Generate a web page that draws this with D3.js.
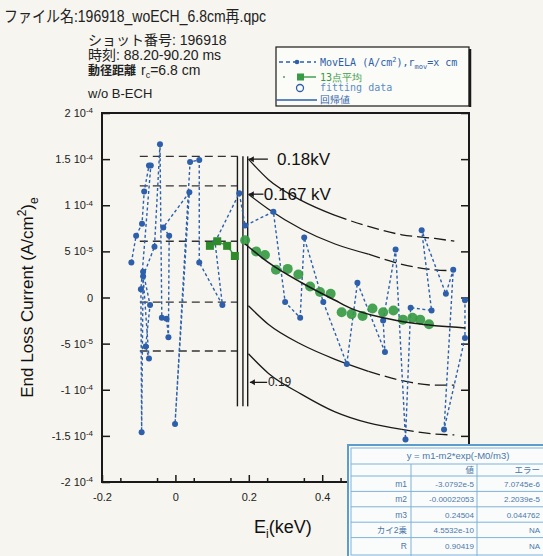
<!DOCTYPE html>
<html>
<head>
<meta charset="utf-8">
<script src="https://cdn.jsdelivr.net/npm/d3@7"></script>
<style>
  body { margin: 0; background: #f6f5ef; }
  svg { display: block; font-family: "Liberation Sans", Arial, "Noto Sans CJK JP", sans-serif; }
</style>
</head>
<body>
<div class="chart"></div>
<script>
// y values are in units of 1e-5 A/cm2
var movE = [-0.120, -0.107, -0.091, -0.085, -0.072, -0.067, -0.094, -0.092, -0.088, -0.069,
            -0.081, -0.072, -0.088, -0.057, -0.042, -0.037, -0.024, -0.019, -0.017, -0.033,
            0.038, -0.001, 0.040, 0.065, 0.065, 0.128, 0.108, 0.174, 0.190, 0.267,
            0.299, 0.340, 0.351, 0.403, 0.467, 0.496, 0.571, 0.566, 0.600, 0.627,
            0.641, 0.698, 0.671, 0.737, 0.757, 0.732, 0.789, 0.789];
var movY = [3.8, 6.7, 8.0, 11.5, 14.3, 14.3, 0.9, -14.6, 2.8, -0.8,
            -5.3, -6.6, 2.3, 5.5, 16.6, -2.2, -2.3, -4.3, 6.7, 7.6,
            11.4, -13.7, 14.7, 14.9, 3.8, -0.8, 6.0, 11.3, 7.8, 9.3,
            -0.5, -2.2, 6.5, -0.5, -7.2, 1.6, -5.9, -2.5, 5.2, -15.4,
            -1.1, -1.4, 7.3, 0.4, 3.0, -14.3, -4.4, -0.3];

var avgE = [0.094, 0.114, 0.141, 0.162];
var avgY = [5.6, 6.1, 5.6, 4.5];

var fitDataE = [0.190, 0.220, 0.244, 0.274, 0.306, 0.335, 0.367, 0.394, 0.423, 0.453,
                0.480, 0.510, 0.537, 0.566, 0.594, 0.620, 0.646, 0.667, 0.691];
var fitDataY = [6.2, 5.0, 4.6, 3.0, 3.1, 2.5, 1.2, 0.6, 0.4, -1.6,
                -1.8, -2.0, -1.2, -1.6, -1.4, -2.4, -2.2, -2.4, -2.9];

var fitE = [0.190, 0.253, 0.344, 0.435, 0.480, 0.566, 0.650, 0.790];
var fitY = [5.8, 3.8, 1.6, -0.3, -1.2, -2.2, -2.8, -3.3];

// bound curves: E samples shared, split index where the line turns dashed
var boundE = [0.199, 0.253, 0.344, 0.435, 0.526, 0.617, 0.707, 0.760];
var bound018 = [15.0, 12.8, 10.5, 8.9, 7.7, 6.8, 6.4, 6.1];
var bound0167 = [11.2, 9.6, 7.4, 5.8, 4.7, 3.6, 3.0, 2.9];
var boundLow1 = [-0.9, -2.9, -5.1, -6.7, -8.0, -9.0, -9.5, -9.5];
var boundLow2 = [-6.1, -8.2, -10.5, -12.4, -13.6, -14.3, -14.8, -14.9];
var boundSplit = [3, 4, 4, 5];

var levelY = [15.3, 12.1, 6.1, -0.5, -5.8];
var levelE = [-0.097, 0.170];
var wallE = [0.169, 0.184, 0.197];
var wallY = [15.3, -11.8];

var yTickVals = [20, 15, 10, 5, 0, -5, -10, -15, -20];
var yTickMant = ["2", "1.5", "1", "5", "0", "-5", "-1", "-1.5", "-2"];
var yTickExp = ["-4", "-4", "-4", "-5", "", "-5", "-4", "-4", "-4"];
var xTickVals = [-0.2, 0, 0.2, 0.4, 0.6, 0.8];
// 0.6 and 0.8 sit under the fit table, so they carry no label
var xTickLabels = ["-0.2", "0", "0.2", "0.4"];

var tableRows = ["m1", "m2", "m3", "カイ2乗", "R"];
var tableVals = ["-3.0792e-5", "-0.00022053", "0.24504", "4.5532e-10", "0.90419"];
var tableErrs = ["7.0745e-6", "2.2039e-5", "0.044762", "NA", "NA"];

var width = 543, height = 556;
var margin = { top: 113, right: 74, bottom: 74, left: 102 };

var svg = d3.select(".chart").append("svg")
    .attr("width", width)
    .attr("height", height);

var x = d3.scaleLinear().domain([-0.2, 0.8]).range([margin.left, width - margin.right]);
var y = d3.scaleLinear().domain([-20, 20]).range([height - margin.bottom, margin.top]);

var blue = "#2d5fab", green = "#379a45", ink = "#1a1a1a";

// header texts
svg.append("text").attr("x", 4).attr("y", 22).style("font-size", "16px").attr("fill", "#222")
    .attr("textLength", 262).attr("lengthAdjust", "spacingAndGlyphs")
    .text("ファイル名:196918_woECH_6.8cm再.qpc");
var info = svg.append("g").attr("fill", "#222").style("font-size", "14px");
info.append("text").attr("x", 88).attr("y", 45).text("ショット番号: 196918");
info.append("text").attr("x", 88).attr("y", 60).text("時刻: 88.20-90.20 ms");
info.append("text").attr("x", 88).attr("y", 75).style("font-size", "12px")
    .style("font-weight", "bold").text("動径距離");
var rc = info.append("text").attr("x", 141).attr("y", 75);
rc.append("tspan").text("r");
rc.append("tspan").attr("dy", 3).style("font-size", "9px").text("c");
rc.append("tspan").attr("dy", -3).text("=6.8 cm");
info.append("text").attr("x", 88).attr("y", 98).style("font-size", "13px").text("w/o B-ECH");

// legend box
var lg = svg.append("g").style("font-family", "'DejaVu Sans Mono', monospace").style("font-size", "10px");
lg.append("rect").attr("x", 276).attr("y", 47).attr("width", 193).attr("height", 59)
    .attr("fill", "#fbfbf7").attr("stroke", ink).attr("stroke-width", 1.2);
lg.append("line").attr("x1", 470).attr("x2", 470).attr("y1", 49).attr("y2", 107)
    .attr("stroke", ink).attr("stroke-width", 2.5);
lg.append("line").attr("x1", 279).attr("x2", 316).attr("y1", 62).attr("y2", 62)
    .attr("stroke", blue).attr("stroke-dasharray", "4,3").attr("stroke-width", 1.4);
lg.append("circle").attr("cx", 297).attr("cy", 62).attr("r", 2.3).attr("fill", blue);
var t1 = lg.append("text").attr("x", 320).attr("y", 66).attr("fill", blue);
t1.append("tspan").text("MovELA (A/cm");
t1.append("tspan").attr("dy", -4).style("font-size", "7px").text("2");
t1.append("tspan").attr("dy", 4).text("),r");
t1.append("tspan").attr("dy", 3).style("font-size", "7px").text("mov");
t1.append("tspan").attr("dy", -3).text("=x cm");
lg.append("line").attr("x1", 298).attr("x2", 316).attr("y1", 77).attr("y2", 77)
    .attr("stroke", green).attr("stroke-width", 1.4);
lg.append("circle").attr("cx", 284).attr("cy", 77).attr("r", 0.9).attr("fill", green);
lg.append("rect").attr("x", 297).attr("y", 73.5).attr("width", 7).attr("height", 7).attr("fill", green);
lg.append("text").attr("x", 320).attr("y", 81).attr("fill", green).text("13点平均");
lg.append("circle").attr("cx", 300).attr("cy", 88).attr("r", 3.5).attr("fill", "none")
    .attr("stroke", blue).attr("stroke-width", 1.3);
lg.append("text").attr("x", 320).attr("y", 91).attr("fill", "#5a8cc4").text("fitting data");
lg.append("line").attr("x1", 276).attr("x2", 317).attr("y1", 100).attr("y2", 100)
    .attr("stroke", blue).attr("stroke-width", 1.4);
lg.append("text").attr("x", 320).attr("y", 103).attr("fill", blue).text("回帰値");

// frame and axes
svg.append("rect").attr("x", x(-0.2)).attr("y", y(20))
    .attr("width", x(0.8) - x(-0.2)).attr("height", y(-20) - y(20))
    .attr("fill", "none").attr("stroke", ink).attr("stroke-width", 2);

var yAxis = svg.append("g")
    .attr("transform", "translate(" + x(-0.2) + ",0)")
    .call(d3.axisLeft(y).tickValues(yTickVals).tickSizeInner(-8).tickSizeOuter(0).tickPadding(9));
yAxis.selectAll("text").each(function(d, i) {
    var t = d3.select(this).text("").style("font-size", "11px").attr("fill", "#222");
    if (yTickExp[i] === "") { t.text(yTickMant[i]); return; }
    t.append("tspan").text(yTickMant[i] + " 10");
    t.append("tspan").attr("dy", "-0.45em").style("font-size", "8px").text(yTickExp[i]);
});
var yAxisR = svg.append("g")
    .attr("transform", "translate(" + x(0.8) + ",0)")
    .call(d3.axisRight(y).tickValues(yTickVals).tickSizeInner(-8).tickSizeOuter(0).tickFormat(""));

var xMinor = svg.append("g")
    .attr("transform", "translate(0," + y(-20) + ")")
    .call(d3.axisBottom(x).tickValues(d3.range(-0.15, 0.8, 0.1)).tickSizeInner(-4).tickSizeOuter(0).tickFormat(""));
var xAxis = svg.append("g")
    .attr("transform", "translate(0," + y(-20) + ")")
    .call(d3.axisBottom(x).tickValues(xTickVals).tickSizeInner(-7).tickSizeOuter(0).tickPadding(11)
        .tickFormat(function(d, i) { return xTickLabels[i] || ""; }));
xAxis.selectAll("text").style("font-size", "11px").attr("fill", "#222");

[yAxis, yAxisR, xMinor, xAxis].forEach(function(g) {
    g.select(".domain").remove();
    g.selectAll("line").attr("stroke", ink).attr("stroke-width", 1.5);
});

// axis labels
var yl = svg.append("text")
    .attr("transform", "translate(33," + y(0) + ") rotate(-90)")
    .attr("text-anchor", "middle").style("font-size", "17px").attr("fill", "#111");
yl.append("tspan").text("End Loss Current (A/cm");
yl.append("tspan").attr("dy", -7).style("font-size", "12px").text("2");
yl.append("tspan").attr("dy", 7).text(")");
yl.append("tspan").attr("dy", 5).style("font-size", "12px").text("e");

var xl = svg.append("text").attr("x", 254).attr("y", 533).style("font-size", "18px").attr("fill", "#111");
xl.append("tspan").text("E");
xl.append("tspan").attr("dy", 5).style("font-size", "12px").text("i");
xl.append("tspan").attr("dy", -5).text("(keV)");

// level guides and walls
svg.selectAll(".level").data(levelY).enter().append("line")
    .attr("x1", x(levelE[0])).attr("x2", x(levelE[1]))
    .attr("y1", function(d) { return y(d); }).attr("y2", function(d) { return y(d); })
    .attr("stroke", "#333").attr("stroke-width", 1.3).attr("stroke-dasharray", "8,5");
svg.selectAll(".wall").data(wallE).enter().append("line")
    .attr("x1", function(d) { return x(d); }).attr("x2", function(d) { return x(d); })
    .attr("y1", y(wallY[0])).attr("y2", y(wallY[1]))
    .attr("stroke", ink).attr("stroke-width", 1.4);

// bound curves
var curve = d3.line()
    .x(function(d) { return x(d[0]); })
    .y(function(d) { return y(d[1]); })
    .curve(d3.curveMonotoneX);
[bound018, bound0167, boundLow1, boundLow2].forEach(function(vals, k) {
    var pts = boundE.map(function(e, i) { return [e, vals[i]]; });
    var s = boundSplit[k];
    svg.append("path").attr("d", curve(pts.slice(0, s + 1)))
        .attr("fill", "none").attr("stroke", ink).attr("stroke-width", 1.3);
    svg.append("path").attr("d", curve(pts.slice(s)))
        .attr("fill", "none").attr("stroke", ink).attr("stroke-width", 1.3).attr("stroke-dasharray", "12,5");
});

// MovELA series
var movPts = movE.map(function(e, i) { return [e, movY[i]]; });
svg.append("path").attr("d", d3.line().x(function(d) { return x(d[0]); }).y(function(d) { return y(d[1]); })(movPts))
    .attr("fill", "none").attr("stroke", blue).attr("stroke-width", 1.4).attr("stroke-dasharray", "3,2.5");
svg.selectAll(".mov").data(movPts).enter().append("circle")
    .attr("cx", function(d) { return x(d[0]); }).attr("cy", function(d) { return y(d[1]); })
    .attr("r", 3).attr("fill", blue);

// 13-point average
var avgPts = avgE.map(function(e, i) { return [e, avgY[i]]; });
svg.append("path").attr("d", d3.line().x(function(d) { return x(d[0]); }).y(function(d) { return y(d[1]); })(avgPts))
    .attr("fill", "none").attr("stroke", green).attr("stroke-width", 1.4);
svg.selectAll(".avg").data(avgPts).enter().append("rect")
    .attr("x", function(d) { return x(d[0]) - 4; }).attr("y", function(d) { return y(d[1]) - 4; })
    .attr("width", 8).attr("height", 8).attr("fill", "#2f8a2c");

// fitting data and fit
svg.selectAll(".fitd").data(fitDataE).enter().append("circle")
    .attr("cx", function(d) { return x(d); }).attr("cy", function(d, i) { return y(fitDataY[i]); })
    .attr("r", 5).attr("fill", green).attr("opacity", 0.92);
svg.append("path").attr("d", curve(fitE.map(function(e, i) { return [e, fitY[i]]; })))
    .attr("fill", "none").attr("stroke", ink).attr("stroke-width", 1.5);

// annotations
function arrow(e0, e1, v) {
    svg.append("line").attr("x1", x(e0)).attr("x2", x(e1)).attr("y1", y(v)).attr("y2", y(v))
        .attr("stroke", ink).attr("stroke-width", 1.3);
    svg.append("path")
        .attr("d", "M" + x(e0) + "," + y(v) + "l5,-3l0,6z").attr("fill", ink);
}
arrow(0.200, 0.252, 15.0);
svg.append("text").attr("x", x(0.277)).attr("y", y(15.0) + 6).style("font-size", "17px").attr("fill", "#111").text("0.18kV");
arrow(0.200, 0.240, 11.2);
svg.append("text").attr("x", x(0.241)).attr("y", y(11.2) + 6).style("font-size", "17px").attr("fill", "#111").text("0.167 kV");
arrow(0.203, 0.250, -9.2);
svg.append("text").attr("x", x(0.252)).attr("y", y(-9.2) + 4).style("font-size", "12px").attr("fill", "#222").text("0.19");

// fit result table
var tb = svg.append("g").style("font-size", "8.5px").attr("fill", "#4a78a8");
var tx = 348, ty = 445, rowH = 15.4;
tb.append("rect").attr("x", tx).attr("y", ty).attr("width", 200).attr("height", 113)
    .attr("fill", "#fafcfc").attr("stroke", "#5e9ccc").attr("stroke-width", 2);
tb.append("rect").attr("x", tx + 3).attr("y", ty + 3).attr("width", 200).attr("height", 107)
    .attr("fill", "none").attr("stroke", "#7fb2d8").attr("stroke-width", 1);
tb.append("text").attr("x", 458).attr("y", 459).attr("text-anchor", "middle").style("font-size", "9.5px")
    .text("y = m1-m2*exp(-M0/m3)");
var gridY = [464, 476].concat(tableRows.map(function(r, i) { return 476 + (i + 1) * rowH; }).slice(0, 4));
tb.selectAll(".hl").data(gridY).enter().append("line")
    .attr("x1", tx + 3).attr("x2", width).attr("y1", function(d) { return d; }).attr("y2", function(d) { return d; })
    .attr("stroke", "#7fb2d8").attr("stroke-width", 1);
tb.selectAll(".vl").data([411, 477]).enter().append("line")
    .attr("x1", function(d) { return d; }).attr("x2", function(d) { return d; })
    .attr("y1", 464).attr("y2", 556).attr("stroke", "#7fb2d8").attr("stroke-width", 1);
tb.append("text").attr("x", 474).attr("y", 473).attr("text-anchor", "end").text("値");
tb.append("text").attr("x", 540).attr("y", 473).attr("text-anchor", "end").text("エラー");
tableRows.forEach(function(r, i) {
    var by = 476 + i * rowH + 11;
    tb.append("text").attr("x", 407).attr("y", by).attr("text-anchor", "end").text(r);
    tb.append("text").attr("x", 474).attr("y", by).attr("text-anchor", "end").style("font-size", "8px").text(tableVals[i]);
    tb.append("text").attr("x", 540).attr("y", by).attr("text-anchor", "end").style("font-size", "8px").text(tableErrs[i]);
});
</script>
</body>
</html>
